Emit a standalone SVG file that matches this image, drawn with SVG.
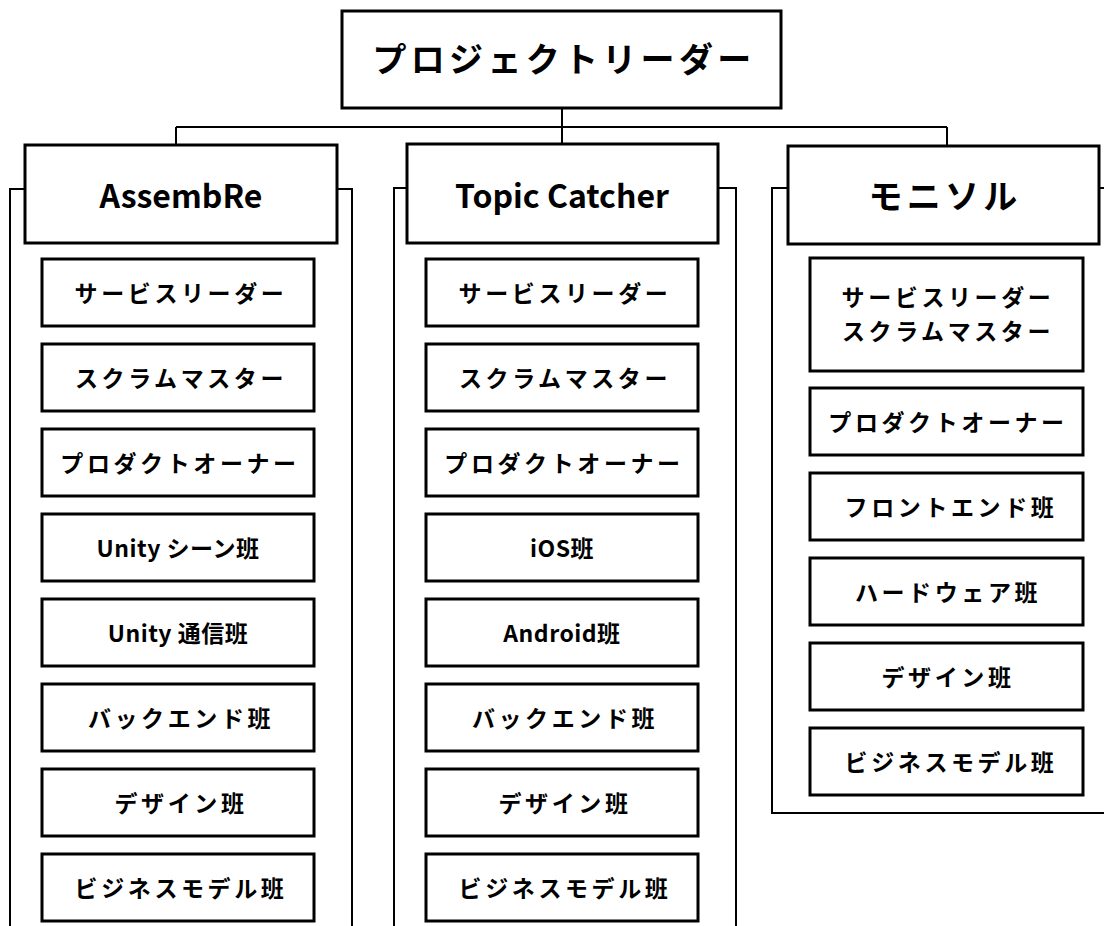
<svg xmlns="http://www.w3.org/2000/svg" width="1104" height="926" viewBox="0 0 1104 926">
<style>
.bx{fill:#fff;stroke:#000;stroke-width:3}
.ln{fill:none;stroke:#000;stroke-width:2}
text{font-family:"Noto Sans CJK JP","Noto Sans",sans-serif;font-weight:bold;fill:#000;text-anchor:middle;dominant-baseline:central}
.t1{font-size:34px;letter-spacing:4.3px}
.t2{font-size:32px}
.t3{font-size:23px;letter-spacing:3.6px}
.t4{font-size:23px;letter-spacing:0.5px}
</style>
<rect width="1104" height="926" fill="#fff"/>
<g id="connectors">
<path class="ln" d="M562,108 V127 M176,127 H947 M176,127 V145 M562,127 V144 M947,127 V146"/>
<path class="ln" d="M25,189 H10 V926 M337,189 H352 V926"/>
<path class="ln" d="M407,188 H394 V926 M718,188 H736 V926"/>
<path class="ln" d="M788,188 H772 V813 H1104 M1099,188 H1104"/>
</g>
<g id="root"><rect class="bx" x="342" y="11" width="439" height="97"/><text class="t1" x="564" y="57">プロジェクトリーダー</text></g>
<g id="assembre"><rect class="bx" x="25" y="145" width="312" height="98"/><text class="t2" x="181" y="194">AssembRe</text></g>
<g id="topic"><rect class="bx" x="407" y="144" width="311" height="99"/><text class="t2" x="562" y="194">Topic Catcher</text></g>
<g id="monisoru"><rect class="bx" x="788" y="146" width="311" height="98"/><text class="t1" x="945" y="194">モニソル</text></g>

<g id="a1"><rect class="bx" x="42" y="259" width="272" height="67"/><text class="t3" x="181" y="292">サービスリーダー</text></g>
<g id="a2"><rect class="bx" x="42" y="344" width="272" height="67"/><text class="t3" x="181" y="377">スクラムマスター</text></g>
<g id="a3"><rect class="bx" x="42" y="429" width="272" height="67"/><text class="t3" x="180" y="462">プロダクトオーナー</text></g>
<g id="a4"><rect class="bx" x="42" y="514" width="272" height="67"/><text class="t4" x="178" y="547">Unity シーン班</text></g>
<g id="a5"><rect class="bx" x="42" y="599" width="272" height="67"/><text class="t4" x="178" y="632">Unity 通信班</text></g>
<g id="a6"><rect class="bx" x="42" y="684" width="272" height="67"/><text class="t3" x="181" y="717">バックエンド班</text></g>
<g id="a7"><rect class="bx" x="42" y="769" width="272" height="67"/><text class="t3" x="181" y="802">デザイン班</text></g>
<g id="a8"><rect class="bx" x="42" y="854" width="272" height="67"/><text class="t3" x="181" y="887">ビジネスモデル班</text></g>

<g id="b1"><rect class="bx" x="426" y="259" width="272" height="67"/><text class="t3" x="565" y="292">サービスリーダー</text></g>
<g id="b2"><rect class="bx" x="426" y="344" width="272" height="67"/><text class="t3" x="565" y="377">スクラムマスター</text></g>
<g id="b3"><rect class="bx" x="426" y="429" width="272" height="67"/><text class="t3" x="564" y="462">プロダクトオーナー</text></g>
<g id="b4"><rect class="bx" x="426" y="514" width="272" height="67"/><text class="t4" x="562" y="547">iOS班</text></g>
<g id="b5"><rect class="bx" x="426" y="599" width="272" height="67"/><text class="t4" x="562" y="632">Android班</text></g>
<g id="b6"><rect class="bx" x="426" y="684" width="272" height="67"/><text class="t3" x="565" y="717">バックエンド班</text></g>
<g id="b7"><rect class="bx" x="426" y="769" width="272" height="67"/><text class="t3" x="565" y="802">デザイン班</text></g>
<g id="b8"><rect class="bx" x="426" y="854" width="272" height="67"/><text class="t3" x="565" y="887">ビジネスモデル班</text></g>

<g id="c1"><rect class="bx" x="810" y="258" width="273" height="113"/><text class="t3" x="948" y="296">サービスリーダー</text><text class="t3" x="948" y="330">スクラムマスター</text></g>
<g id="c2"><rect class="bx" x="810" y="388" width="273" height="67"/><text class="t3" x="948" y="421">プロダクトオーナー</text></g>
<g id="c3"><rect class="bx" x="810" y="473" width="273" height="67"/><text class="t3" x="951" y="506">フロントエンド班</text></g>
<g id="c4"><rect class="bx" x="810" y="558" width="273" height="67"/><text class="t3" x="948" y="591">ハードウェア班</text></g>
<g id="c5"><rect class="bx" x="810" y="643" width="273" height="67"/><text class="t3" x="948" y="676">デザイン班</text></g>
<g id="c6"><rect class="bx" x="810" y="728" width="273" height="67"/><text class="t3" x="951" y="761">ビジネスモデル班</text></g>
</svg>
